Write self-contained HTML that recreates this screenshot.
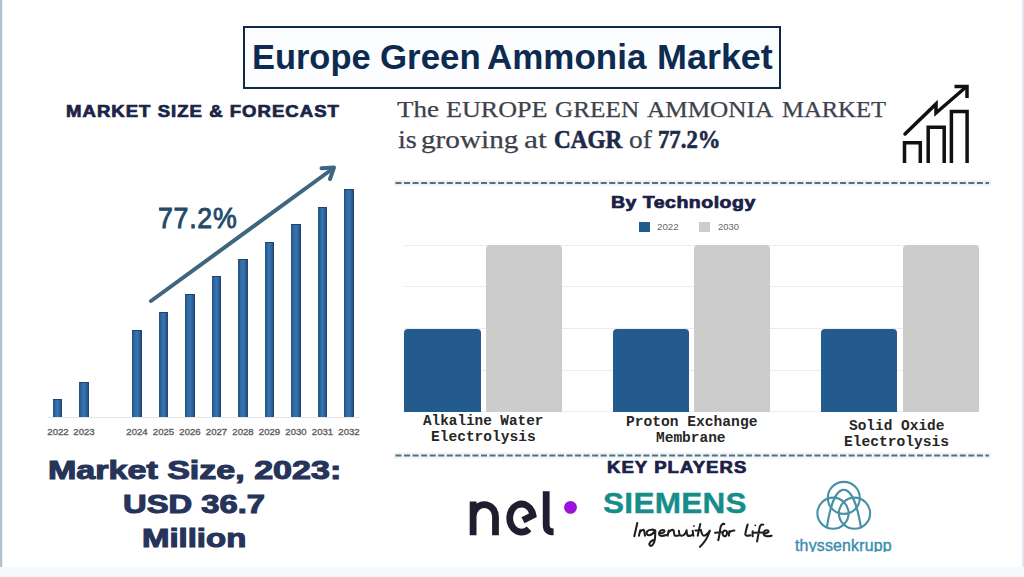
<!DOCTYPE html>
<html><head><meta charset="utf-8">
<style>
*{margin:0;padding:0;box-sizing:border-box}
html,body{width:1024px;height:577px;overflow:hidden;background:#fff}
body{position:relative;font-family:"Liberation Sans",sans-serif}
.a{position:absolute;white-space:nowrap}
.t{transform-origin:0 0}
#title{left:243px;top:26px;width:538px;height:63px;border:2px solid #11294a;background:#fbfdff}
.heavy{font-weight:bold;-webkit-text-stroke:0.7px currentColor}
.heavy2{-webkit-text-stroke:1.1px currentColor}
.bar{position:absolute;width:9.5px;background:linear-gradient(90deg,#264f7b 0%,#2f68a2 25%,#3675b1 50%,#2c629c 75%,#1f3f65 100%);border-top:1.5px solid #22436a}
.yr{position:absolute;top:426px;font-size:9.6px;color:#5e5e5e;width:30px;text-align:center;-webkit-text-stroke:0.35px #5e5e5e}
.grid{position:absolute;left:404px;width:575px;height:1px;background:#ececec}
.cb{position:absolute;border-radius:4px 4px 0 0}
.blue{background:#245b8f}
.gray{background:#cccccc}
.lab{font-family:"Liberation Mono",monospace;font-weight:bold;font-size:14px;color:#262626;line-height:1}
.sf{font-family:"Liberation Serif",serif;color:#3d424c;line-height:1;-webkit-text-stroke:0.25px currentColor}
.sfb{font-weight:bold;color:#1d2a48;-webkit-text-stroke:0.6px currentColor}
.dash{position:absolute;left:396px;width:594px;height:2px;background:repeating-linear-gradient(90deg,#5a6f82 0 6px,transparent 6px 8.55px)}
</style></head><body>

<div class="a" style="left:0;top:0;width:1.5px;height:569px;background:#b3c1ce"></div>
<div class="a" style="left:1.5px;top:0;width:1.5px;height:569px;background:#e8f0f6"></div>
<div class="a" style="left:1022px;top:0;width:2px;height:568px;background:#dfe6ef"></div>
<div class="a" style="left:0;top:567px;width:1024px;height:10px;background:#f5f9fb"></div>
<div id="title" class="a"></div>
<div class="a t" id="tt0" style="left:251.82px;top:40.2px;font-size:34.7px;font-weight:bold;color:#0d2b50;line-height:1;transform:scaleX(0.9922);transform-origin:0 0">Europe</div>
<div class="a t" id="tt1" style="left:379.50px;top:40.2px;font-size:34.7px;font-weight:bold;color:#0d2b50;line-height:1;transform:scaleX(1.0041);transform-origin:0 0">Green</div>
<div class="a t" id="tt2" style="left:487.49px;top:40.2px;font-size:34.7px;font-weight:bold;color:#0d2b50;line-height:1;transform:scaleX(1.0083);transform-origin:0 0">Ammonia</div>
<div class="a t" id="tt3" style="left:656.63px;top:40.2px;font-size:34.7px;font-weight:bold;color:#0d2b50;line-height:1;transform:scaleX(1.0355);transform-origin:0 0">Market</div>


<div class="a t heavy" id="msf" style="letter-spacing:0.9px;left:66.02px;top:103.1px;font-size:16.1px;color:#1b2447;line-height:1;transform:scaleX(1.1511);transform-origin:0 0">MARKET SIZE &amp; FORECAST</div>

<!-- left bar chart -->
<div class="bar" style="left:52.5px;bottom:160.5px;height:17.5px"></div>
<div class="bar" style="left:79px;bottom:160.5px;height:34.8px"></div>
<div class="bar" style="left:132px;bottom:160.5px;height:86.7px"></div>
<div class="bar" style="left:158.5px;bottom:160.5px;height:104.5px"></div>
<div class="bar" style="left:185px;bottom:160.5px;height:122.1px"></div>
<div class="bar" style="left:211.5px;bottom:160.5px;height:140.1px"></div>
<div class="bar" style="left:238px;bottom:160.5px;height:157.5px"></div>
<div class="bar" style="left:264.5px;bottom:160.5px;height:174.7px"></div>
<div class="bar" style="left:291px;bottom:160.5px;height:192.2px"></div>
<div class="bar" style="left:317.5px;bottom:160.5px;height:209.9px"></div>
<div class="bar" style="left:344px;bottom:160.5px;height:228.0px"></div>
<div class="a" style="left:48px;top:416.5px;width:312px;height:1px;background:#e6e6e6"></div>

<div class="yr" style="left:43px">2022</div>
<div class="yr" style="left:69px">2023</div>
<div class="yr" style="left:122px">2024</div>
<div class="yr" style="left:148.5px">2025</div>
<div class="yr" style="left:175px">2026</div>
<div class="yr" style="left:201.5px">2027</div>
<div class="yr" style="left:228px">2028</div>
<div class="yr" style="left:254.5px">2029</div>
<div class="yr" style="left:281px">2030</div>
<div class="yr" style="left:307.5px">2031</div>
<div class="yr" style="left:334px">2032</div>

<svg class="a" style="left:0;top:0" width="400" height="320" viewBox="0 0 400 320">
  <line x1="151" y1="301" x2="333" y2="168.5" stroke="#3e6681" stroke-width="4" stroke-linecap="round"/>
  <polyline points="321.5,168.2 334,167.6 330,179" fill="none" stroke="#3e6681" stroke-width="4" stroke-linecap="round" stroke-linejoin="round"/>
</svg>
<div class="a t" id="pct" style="left:158.35px;top:202.6px;font-size:30px;font-weight:normal;-webkit-text-stroke:0.9px #234a68;color:#234a68;line-height:1;transform:scaleX(0.8920);transform-origin:0 0;letter-spacing:0.8px">77.2%</div>

<div class="a t heavy heavy2" id="ms1" style="left:47.58px;top:457.4px;font-size:26px;color:#27345a;line-height:1;transform:scaleX(1.3090);transform-origin:0 0">Market Size, 2023:</div>
<div class="a t heavy heavy2" id="ms2" style="left:122.68px;top:491.4px;font-size:26px;color:#27345a;line-height:1;transform:scaleX(1.2595);transform-origin:0 0">USD 36.7</div>
<div class="a t heavy heavy2" id="ms3" style="left:141.68px;top:524.6px;font-size:26px;color:#27345a;line-height:1;transform:scaleX(1.2663);transform-origin:0 0">Million</div>

<!-- right top text -->
<div class="a t sf" id="w1" style="left:397.40px;top:97.4px;font-size:24px;transform:scaleX(1.1243);transform-origin:0 0">The</div>
<div class="a t sf" id="w2" style="left:446.41px;top:97.4px;font-size:24px;transform:scaleX(1.0880);transform-origin:0 0">EUROPE</div>
<div class="a t sf" id="w3" style="left:554.95px;top:97.4px;font-size:24px;transform:scaleX(1.0519);transform-origin:0 0">GREEN</div>
<div class="a t sf" id="w4" style="left:646.80px;top:97.4px;font-size:24px;transform:scaleX(1.0517);transform-origin:0 0">AMMONIA</div>
<div class="a t sf" id="w5" style="left:781.77px;top:97.4px;font-size:24px;transform:scaleX(1.0260);transform-origin:0 0">MARKET</div>
<div class="a t sf" id="w6" style="left:397.50px;top:127.6px;font-size:24.9px;transform:scaleX(1.1375);transform-origin:0 0">is</div>
<div class="a t sf" id="w7" style="left:421.23px;top:127.6px;font-size:24.9px;transform:scaleX(1.1744);transform-origin:0 0">growing</div>
<div class="a t sf" id="w8" style="left:524.03px;top:127.6px;font-size:24.9px;transform:scaleX(1.2706);transform-origin:0 0">at</div>
<div class="a t sf sfb" id="w9" style="left:553.97px;top:127.6px;font-size:24.9px;transform:scaleX(0.9329);transform-origin:0 0">CAGR</div>
<div class="a t sf" id="w10" style="left:628.90px;top:127.6px;font-size:24.9px;transform:scaleX(1.1000);transform-origin:0 0">of</div>
<div class="a t sf sfb" id="w11" style="left:658.39px;top:127.6px;font-size:24.9px;transform:scaleX(0.9136);transform-origin:0 0">77.2%</div>

<svg class="a" style="left:895px;top:80px" width="85" height="90" viewBox="895 80 85 90">
  <g fill="none" stroke="#111" stroke-width="3.5">
    <path d="M904.5 163 V142.8 H920.3 V163"/>
    <path d="M928.2 163 V127.2 H944.2 V163"/>
    <path d="M951.4 163 V111.6 H967.1 V163"/>
    <path d="M905 134 L936 104 L936 113 L966 87" stroke-linecap="round"/>
    <path d="M954.5 86.5 H967 V98"/>
  </g>
</svg>

<svg class="a" style="left:0;top:0" width="1024" height="462"><g stroke="#eaf4f9" stroke-width="6"><line x1="394" y1="183" x2="991" y2="183"/><line x1="394" y1="455.5" x2="991" y2="455.5"/></g><g stroke="#5e6d77" stroke-width="2.2" stroke-dasharray="6 2.55"><line x1="395.5" y1="183" x2="989" y2="183"/><line x1="395.5" y1="455.5" x2="989" y2="455.5"/></g></svg>

<div class="a t heavy" id="bytech" style="letter-spacing:0.4px;left:610.96px;top:194.7px;font-size:16px;color:#1a2145;line-height:1;transform:scaleX(1.2195);transform-origin:0 0">By Technology</div>
<div class="a" style="left:639.3px;top:221.7px;width:11px;height:10.7px;background:#245b8f"></div>
<div class="a t" id="lg1" style="left:657.18px;top:222px;font-size:9.3px;color:#666;line-height:10px;transform:scaleX(1.0500);transform-origin:0 0">2022</div>
<div class="a" style="left:698.7px;top:221.7px;width:11px;height:10.7px;background:#cccccc"></div>
<div class="a t" id="lg2" style="left:718.00px;top:222px;font-size:9.3px;color:#666;line-height:10px;transform:scaleX(1.0200);transform-origin:0 0">2030</div>

<div class="grid" style="top:244.5px"></div>
<div class="grid" style="top:286px"></div>
<div class="grid" style="top:328px"></div>
<div class="grid" style="top:370px"></div>
<div class="grid" style="top:411px"></div>

<div class="cb blue" style="left:404.4px;top:328.6px;width:76.5px;height:83px"></div>
<div class="cb gray" style="left:486.3px;top:244.7px;width:75.7px;height:166.9px"></div>
<div class="cb blue" style="left:612.7px;top:328.6px;width:76.8px;height:83px"></div>
<div class="cb gray" style="left:694px;top:244.7px;width:76px;height:166.9px"></div>
<div class="cb blue" style="left:821.4px;top:328.6px;width:75.6px;height:83px"></div>
<div class="cb gray" style="left:902.5px;top:244.7px;width:76.1px;height:166.9px"></div>

<div class="a t lab" id="l1a" style="left:422.90px;top:413.7px;transform:scaleX(1.0231);transform-origin:0 0">Alkaline Water</div>
<div class="a t lab" id="l1b" style="left:430.66px;top:430.1px;transform:scaleX(1.0384);transform-origin:0 0">Electrolysis</div>
<div class="a t lab" id="l2a" style="left:625.96px;top:414.7px;transform:scaleX(1.0427);transform-origin:0 0">Proton Exchange</div>
<div class="a t lab" id="l2b" style="left:656.17px;top:431.1px;transform:scaleX(1.0348);transform-origin:0 0">Membrane</div>
<div class="a t lab" id="l3a" style="left:849.20px;top:419.1px;transform:scaleX(1.0326);transform-origin:0 0">Solid Oxide</div>
<div class="a t lab" id="l3b" style="left:844.06px;top:435.2px;transform:scaleX(1.0424);transform-origin:0 0">Electrolysis</div>



<div class="a t heavy" id="kp" style="letter-spacing:0.9px;left:606.73px;top:460px;font-size:15.6px;color:#1a2048;line-height:1;transform:scaleX(1.1872);transform-origin:0 0">KEY PLAYERS</div>

<!-- logos -->
<svg class="a" style="left:460px;top:485px" width="125" height="60" viewBox="460 485 125 60">
  <g fill="none" stroke="#211d2e" stroke-width="6.8">
    <path d="M473.1 535.3 V501.5 M473.1 516.5 A11.2 11.8 0 0 1 495.5 516.5 V535.3"/>
    <path d="M529.05 528.8 A11.75 14 0 1 1 533.0 515.2 L523 520.3"/>
    <path d="M546.2 491.2 V525 Q546.2 531.9 553.6 531.9"/>
  </g>
  <circle cx="570.5" cy="507.4" r="6.4" fill="#9a14dc"/>
</svg>

<div class="a t" id="siemens" style="-webkit-text-stroke:0.4px #178d8b;left:602.71px;top:487.6px;font-size:30px;font-weight:bold;color:#178d8b;line-height:1;transform:scaleX(1.0496);transform-origin:0 0;letter-spacing:0.3px">SIEMENS</div>
<svg class="a" style="left:628px;top:518px" width="150" height="32" viewBox="628 518 150 32">
<g fill="none" stroke="#1f1f1f" stroke-width="2.05" stroke-linecap="round" stroke-linejoin="round">
<path d="M637.3 523 C636.4 527.5, 635.2 532, 634.3 536.3"/>
<path d="M638.9 535.7 C639.4 533.5, 639.8 531.8, 640.3 530.2 M639.9 532.4 C641 530.2, 643.4 529.2, 644.1 530.6 C644.6 532, 644.6 534.2, 645 535.7"/>
<path d="M655.3 530.8 C653.5 529.2, 649.5 529.2, 647.3 531.2 C645.8 532.8, 646.6 535.6, 649.5 535.2 C652 534.8, 654 532.5, 655.3 530.4 C655.3 534.5, 655.3 538.5, 654.3 541.8 C653.3 545, 651 547, 649.6 545.2 C648.6 543.6, 650.5 541.2, 653.3 540"/>
<path d="M659.3 533.4 C661.5 533.3, 664.3 532.6, 664.5 531.2 C664.4 529.8, 661.8 529.7, 660.2 531 C658.4 532.6, 658.6 535.4, 660.8 535.8 C662.6 536.1, 664.6 535.6, 666.2 535"/>
<path d="M667.7 535.7 C668 533.8, 668.4 532, 668.8 530.6 M668.6 532.6 C669.8 530.4, 672.6 529.2, 673.5 530.4 C674.3 531.6, 673.9 534.6, 674.6 535.4 C675.6 536.2, 677.4 535.8, 678.8 535.5"/>
<path d="M678.9 530.7 C679 533, 679.4 535.6, 681.2 535.7 C683.6 535.8, 685.8 533, 686.6 530.2 C686.6 532.5, 686.8 534.6, 687.9 535.7 C689.3 536.2, 691 535.5, 692.2 534.8"/>
<path d="M692.7 530.7 C692.8 532.4, 693 534.2, 693.4 535.7"/>
<circle cx="693.9" cy="525.9" r="0.9" fill="#1f1f1f" stroke="none"/>
<path d="M700.3 524.1 C699.4 527.8, 698.4 532, 697.8 535.7 M695.5 530.4 L701 530.1"/>
<path d="M701 530.7 C701.6 533.2, 702.4 535.6, 704 535.7 C706.4 535.6, 708.6 532.6, 709.9 530.7 C708.2 536, 704.2 542.8, 700 546.8"/>
<path d="M724.4 524 C722.3 523.4, 720.6 525.5, 720.3 528.5 C719.8 532.8, 719 537, 718.3 540.2 M715.1 532.8 L721.6 532.3"/>
<path d="M724.6 530.6 C722.6 531, 721.9 534.6, 723.6 536 C725.4 537.1, 727.4 534.8, 727.1 532.3 C726.9 530.8, 725.6 530.3, 724.6 530.6"/>
<path d="M728.9 535.6 C729 534, 729.2 532.5, 729.3 531.2 M729.2 532.7 C730.4 531, 732.2 530.4, 734.4 530.5"/>
<path d="M747.6 524.6 C746.6 528, 745.6 531.6, 745.3 534.3 C745.3 536.2, 747.8 536, 750.5 535.3"/>
<path d="M752.7 531.2 C752.6 532.8, 752.5 534.6, 752.6 536.2"/>
<circle cx="755.2" cy="525.3" r="0.9" fill="#1f1f1f" stroke="none"/>
<path d="M763.2 524.6 C761 523.8, 759.6 526, 759.2 529.4 C758.6 533.5, 757.8 537.8, 757.1 541.4 M754 532.7 L762.3 532.5"/>
<path d="M763.8 533.6 C766 533.4, 768.6 532.6, 768.6 531.3 C768.4 530, 765.6 529.9, 764.3 531.3 C763 533, 763.4 535.6, 765.8 536.1 C767.8 536.5, 769.8 536.2, 771.6 535.8"/>
</g></svg>

<svg class="a" style="left:805px;top:475px" width="75" height="60" viewBox="805 475 75 60">
  <g fill="none" stroke="#4790a6" stroke-width="2.1">
    <circle cx="843.8" cy="497.9" r="16"/>
    <circle cx="833" cy="513.2" r="15.6"/>
    <circle cx="854.5" cy="513.2" r="15.6"/>
    <path d="M826.8 528 C830 506, 836 489.8, 843.8 489.8 C851.6 489.8, 857.6 506, 861 528"/>
  </g>
</svg>
<div class="a" style="left:790px;top:530px;width:110px;height:21.8px;overflow:hidden">
<div class="a t" id="tk" style="left:5.24px;top:7.2px;font-size:16.2px;color:#3a8cb0;line-height:1;-webkit-text-stroke:0.4px #3a8cb0;transform:scaleX(0.9806);transform-origin:0 0;letter-spacing:0.2px">thyssenkrupp</div>
</div>

</body></html>
